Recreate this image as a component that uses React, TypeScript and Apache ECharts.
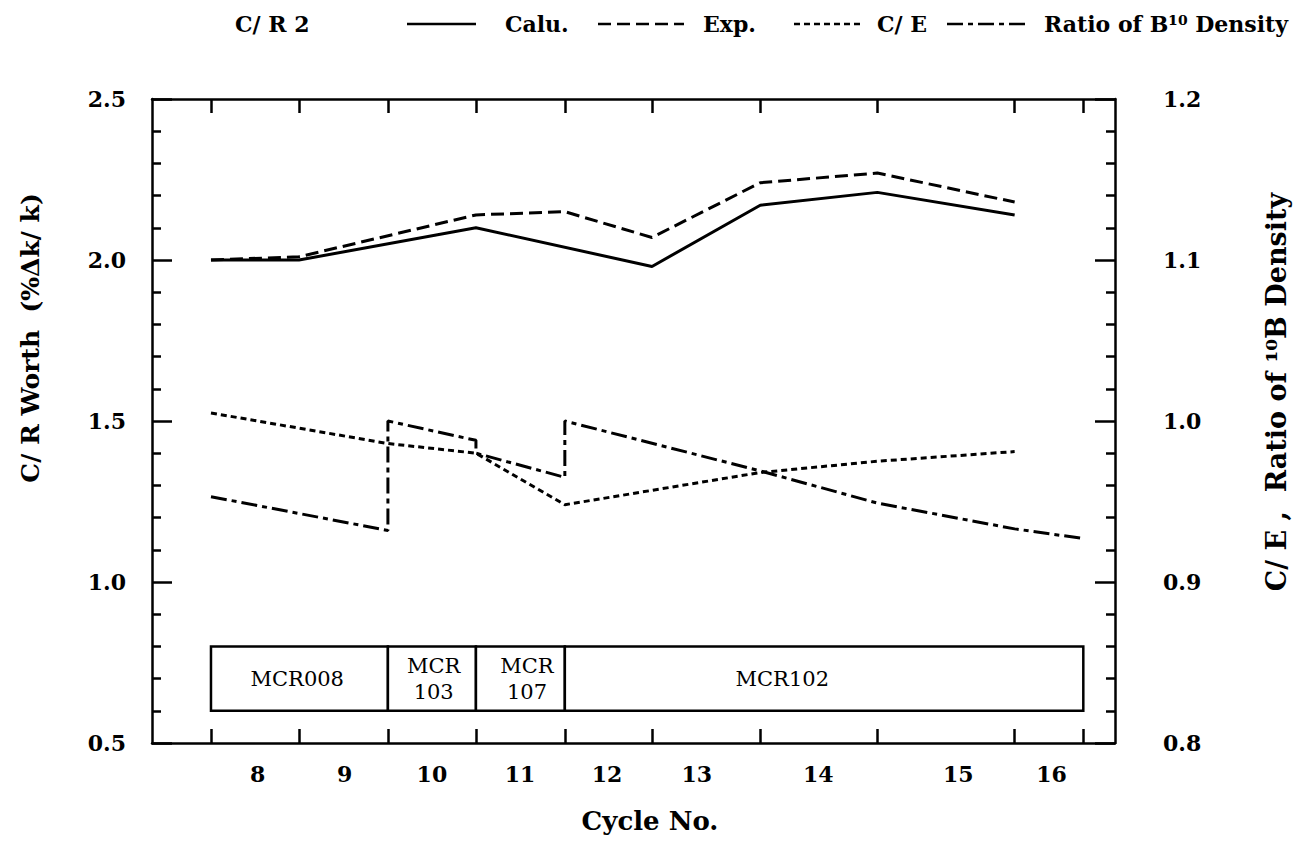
import React, { useEffect, useRef } from "react";
import * as echarts from "echarts";

// x axis: position along the operating history (cycle boundaries at ticks)
const xMin = 6.83;
const xMax = 17.77;
const cycleBounds = [7.5, 8.5, 9.51, 10.51, 11.52, 12.51, 13.74, 15.07, 16.63, 17.41];
const cycleLabelPos = [8.03, 9.02, 10.01, 11.01, 12.0, 13.02, 14.4, 15.99, 17.05];
const cycleLabels = ["8", "9", "10", "11", "12", "13", "14", "15", "16"];

// C/R worth (%Δk/k), left axis
const caluX = [7.5, 8.5, 10.51, 12.51, 13.74, 15.07, 16.63];
const caluY = [2.0, 2.0, 2.1, 1.98, 2.17, 2.21, 2.14];
const expX = [7.5, 8.5, 10.51, 11.52, 12.51, 13.74, 15.07, 16.63];
const expY = [2.0, 2.01, 2.14, 2.15, 2.07, 2.24, 2.27, 2.18];

// right axis: C/E and ratio of 10B density
const ceX = [7.5, 9.51, 10.51, 11.52, 13.74, 15.07, 16.63];
const ceY = [1.005, 0.986, 0.98, 0.948, 0.968, 0.975, 0.981];
const ratioX = [7.5, 9.51, 9.51, 10.51, 10.51, 11.52, 11.52, 13.74, 15.07, 16.63, 17.41];
const ratioY = [0.953, 0.932, 1.0, 0.988, 0.98, 0.965, 1.0, 0.969, 0.949, 0.933, 0.927];

// control rod batches
const mcrStart = [7.5, 9.51, 10.51, 11.52];
const mcrEnd = [9.51, 10.51, 11.52, 17.41];
const mcrLabelX = [8.48, 10.03, 11.09, 13.99];
const mcrLabels = ["MCR008", "MCR\n103", "MCR\n107", "MCR102"];
const mcrLow = 0.6;
const mcrHigh = 0.8;

const seriesNames = ["Calu.", "Exp.", "C/ E", "Ratio of B¹⁰ Density"];
const dashes: (number[] | null)[] = [null, [13, 6], [6, 4], [16, 5, 5, 5]];

const pairs = (xs: number[], ys: number[]) => xs.map((x, i) => [x, ys[i]]);

const SERIF = "'DejaVu Serif', serif";

export default function App() {
  const ref = useRef<HTMLDivElement>(null);
  useEffect(() => {
    if (!ref.current) return;
    const chart = echarts.init(ref.current, undefined, { renderer: "svg" });
    const axisLine = { show: true, lineStyle: { color: "#000", width: 2.5 } };
    const tickStyle = { color: "#000", width: 2.5 };

    // hand-drawn legend row
    const legendY = 24;
    const legendFont = `bold 22px ${SERIF}`;
    const sampleX = [[407, 476], [598, 684], [794, 862], [947, 1027]];
    const textX = [505, 703, 877, 1044];
    const legendEls: any[] = [
      {
        type: "text",
        x: 235,
        y: legendY,
        style: { text: "C/ R 2", font: legendFont, fill: "#000", verticalAlign: "middle" },
      },
    ];
    seriesNames.forEach((n, i) => {
      legendEls.push({
        type: "line",
        shape: { x1: sampleX[i][0], y1: legendY, x2: sampleX[i][1], y2: legendY },
        style: { stroke: "#000", lineWidth: 2.5, lineDash: dashes[i] || undefined },
      });
      legendEls.push({
        type: "text",
        x: textX[i],
        y: legendY,
        style: { text: n, font: legendFont, fill: "#000", verticalAlign: "middle" },
      });
    });

    const lineSeries = (i: number, xs: number[], ys: number[], yAxisIndex: number) => ({
      name: seriesNames[i],
      type: "line",
      yAxisIndex,
      symbol: "none",
      data: pairs(xs, ys),
      lineStyle: { color: "#000", width: 3, type: dashes[i] || "solid" },
      itemStyle: { color: "#000" },
    });

    chart.setOption({
      animation: false,
      backgroundColor: "#fff",
      grid: { left: 152, right: 188, top: 99, bottom: 99 },
      graphic: [
        ...legendEls,
        {
          type: "text",
          x: 30,
          y: 338,
          rotation: Math.PI / 2,
          style: {
            text: "C/ R Worth  (%Δk/ k)",
            font: `bold 25px ${SERIF}`,
            fill: "#000",
            align: "center",
            verticalAlign: "middle",
          },
        },
        {
          type: "text",
          x: 1276,
          y: 392,
          rotation: Math.PI / 2,
          style: {
            text: "C/ E ,  Ratio of ¹⁰B Density",
            font: `bold 27px ${SERIF}`,
            fill: "#000",
            align: "center",
            verticalAlign: "middle",
          },
        },
        {
          type: "text",
          x: 650,
          y: 821,
          style: {
            text: "Cycle No.",
            font: `bold 26px ${SERIF}`,
            fill: "#000",
            align: "center",
            verticalAlign: "middle",
          },
        },
      ],
      xAxis: [
        {
          type: "value",
          min: xMin,
          max: xMax,
          position: "bottom",
          axisLine,
          splitLine: { show: false },
          axisTick: { show: true, inside: true, length: 14, lineStyle: tickStyle, customValues: cycleBounds },
          axisLabel: {
            customValues: cycleLabelPos,
            formatter: (v: number) => {
              const i = cycleLabelPos.findIndex((p) => Math.abs(p - v) < 1e-6);
              return i >= 0 ? cycleLabels[i] : "";
            },
            margin: 20,
            fontFamily: SERIF,
            fontWeight: "bold",
            fontSize: 22,
            color: "#000",
          },
        },
        {
          type: "value",
          min: xMin,
          max: xMax,
          position: "top",
          axisLine,
          splitLine: { show: false },
          axisTick: { show: true, inside: true, length: 14, lineStyle: tickStyle, customValues: cycleBounds },
          axisLabel: { show: false },
        },
      ],
      yAxis: [
        {
          type: "value",
          min: 0.5,
          max: 2.5,
          interval: 0.5,
          position: "left",
          axisLine,
          splitLine: { show: false },
          axisTick: { show: true, inside: true, length: 20, lineStyle: tickStyle },
          minorTick: { show: true, splitNumber: 5, length: 9, lineStyle: tickStyle },
          axisLabel: {
            formatter: (v: number) => v.toFixed(1),
            margin: 26,
            fontFamily: SERIF,
            fontWeight: "bold",
            fontSize: 22,
            color: "#000",
          },
        },
        {
          type: "value",
          min: 0.8,
          max: 1.2,
          interval: 0.1,
          position: "right",
          axisLine,
          splitLine: { show: false },
          axisTick: { show: true, inside: true, length: 20, lineStyle: tickStyle },
          minorTick: { show: true, splitNumber: 5, length: 9, lineStyle: tickStyle },
          axisLabel: {
            formatter: (v: number) => v.toFixed(1),
            margin: 48,
            fontFamily: SERIF,
            fontWeight: "bold",
            fontSize: 22,
            color: "#000",
          },
        },
      ],
      series: [
        lineSeries(0, caluX, caluY, 0),
        lineSeries(1, expX, expY, 0),
        lineSeries(2, ceX, ceY, 1),
        lineSeries(3, ratioX, ratioY, 1),
        {
          name: "MCR",
          type: "custom",
          yAxisIndex: 0,
          encode: { x: [0, 1], y: [2, 3] },
          data: mcrStart.map((s, i) => [s, mcrEnd[i], mcrLow, mcrHigh]),
          renderItem: (params: any, api: any) => {
            const tl = api.coord([api.value(0), api.value(3)]);
            const br = api.coord([api.value(1), api.value(2)]);
            const lx = api.coord([mcrLabelX[params.dataIndex], api.value(2)])[0];
            return {
              type: "group",
              children: [
                {
                  type: "rect",
                  shape: { x: tl[0], y: tl[1], width: br[0] - tl[0], height: br[1] - tl[1] },
                  style: { fill: "#fff", stroke: "#000", lineWidth: 2.5 },
                },
                {
                  type: "text",
                  x: lx,
                  y: (tl[1] + br[1]) / 2,
                  style: {
                    text: mcrLabels[params.dataIndex],
                    align: "center",
                    verticalAlign: "middle",
                    font: `21px ${SERIF}`,
                    lineHeight: 26,
                    fill: "#000",
                  },
                },
              ],
            };
          },
          z: 1,
        },
      ],
    });
    return () => chart.dispose();
  }, []);
  return (
    <div
      ref={ref}
      style={{ position: "fixed", left: 0, top: 0, width: 1303, height: 842, background: "#fff" }}
    />
  );
}
